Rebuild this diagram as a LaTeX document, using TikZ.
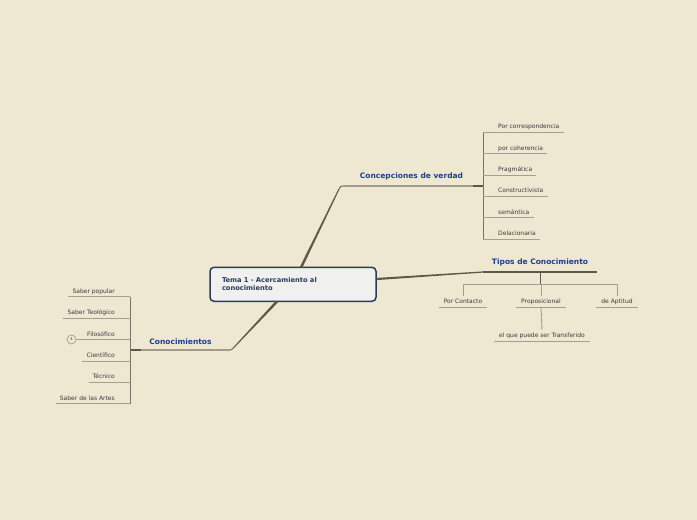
\documentclass[tikz,border=0pt]{standalone}
\usepackage{fontspec}
\setmainfont{DejaVu Sans}
\usetikzlibrary{calc}
\definecolor{bgc}{HTML}{EEE7D2}
\definecolor{boxfill}{HTML}{F0F0EE}
\definecolor{boxline}{HTML}{2B3B5B}
\definecolor{titleblue}{HTML}{1E3F8C}
\definecolor{trunkc}{HTML}{5F5848}
\definecolor{branchc}{HTML}{7A7464}
\definecolor{ulc}{HTML}{A59F90}
\definecolor{leaftext}{HTML}{3A3A3A}
\tikzset{
  central/.style={draw=boxline, line width=1.5pt, fill=boxfill, rounded corners=4pt,
    minimum width=166pt, minimum height=34pt, text width=142pt, align=left,
    font=\fontsize{6.7}{8}\selectfont\bfseries, text=boxline, inner sep=0pt},
  topic/.style={font=\fontsize{7.5}{8}\selectfont\bfseries, text=titleblue, inner sep=0pt},
  leaf/.style={font=\fontsize{6}{7}\selectfont, text=leaftext, text height=4.5pt,
    text depth=1.3pt, inner ysep=1.8pt, inner xsep=4pt},
  cleaf/.style={leaf, inner xsep=5pt},
  uline/.style={draw=ulc, line width=0.9pt},
  branch/.style={draw=branchc, line width=1.1pt},
  darkseg/.style={draw=trunkc, line width=1.6pt},
  bracket/.style={draw=branchc, line width=1pt},
  counter/.style={circle, draw=ulc, line width=0.7pt, minimum size=9pt, inner sep=0pt,
    font=\fontsize{3.8}{4}\selectfont, text=leaftext}
}
\begin{document}
\begin{tikzpicture}[x=1pt,y=-1pt]
\fill[bgc] (0,0) rectangle (697,520);
\useasboundingbox (0,0) rectangle (697,520);

% central topic
\node[central] (c) at (293,284.3) {Tema 1 - Acercamiento al\\conocimiento};

% ---------- Concepciones de verdad ----------
\coordinate (cvA) at (301,267.5);
\coordinate (cvE) at (339,189);
\coordinate (cvC) at (340.6,186);
\coordinate (cvF) at (344,186);
\coordinate (cvD) at (473,186);
\coordinate (cvB) at (483,186);
\fill[trunkc] ($(cvA)!1.3pt!90:(cvE)$) -- ($(cvE)!0.55pt!-90:(cvA)$) -- ($(cvE)!0.55pt!90:(cvA)$) -- ($(cvA)!1.3pt!-90:(cvE)$) -- cycle;
\draw[branch] (cvE) .. controls (cvC) .. (cvF) -- (cvD);
\draw[darkseg] (cvD) -- (cvB);
\node[topic] (cv) at (411.5,176.3) {Concepciones de verdad};
\coordinate (cvT) at (483,132);
\coordinate (cvBot) at (483,239);
\draw[bracket] (cvT) -- (cvBot);

\node[leaf, anchor=south west] (v1) at (494,132) {Por correspondencia};
\node[leaf, anchor=south west] (v2) at (494,153.5) {por coherencia};
\node[leaf, anchor=south west] (v3) at (494,175) {Pragmática};
\node[leaf, anchor=south west] (v4) at (494,196) {Constructivista};
\node[leaf, anchor=south west] (v5) at (494,217.5) {semántica};
\node[leaf, anchor=south west] (v6) at (494,239) {Delacionaria};
\foreach \n in {v1,v2,v3,v4,v5,v6}
  \draw[uline] (cvT |- \n.south) -- (\n.south east);

% ---------- Tipos de Conocimiento ----------
\coordinate (tA) at (376.5,279);
\coordinate (tK) at (483,272);
\coordinate (tE) at (597,272);
\coordinate (tJ) at (540,272);
\coordinate (tBar) at (540,284);
\fill[trunkc] ($(tA)!1.1pt!90:(tK)$) -- ($(tK)!0.6pt!-90:(tA)$) -- ($(tK)!0.6pt!90:(tA)$) -- ($(tA)!1.1pt!-90:(tK)$) -- cycle;
\draw[branch, draw=trunkc, line width=1.1pt] (tK) -- (tE);
\node[topic] (tp) at (540,262.8) {Tipos de Conocimiento};
\draw[branch, draw=trunkc, line width=0.9pt] (tJ) -- (tBar);

\node[cleaf, anchor=south] (n1) at (463,307) {Por Contacto};
\node[cleaf, anchor=south] (n2) at (541,307) {Proposicional};
\node[cleaf, anchor=south] (n3) at (617,307) {de Aptitud};
\node[cleaf, anchor=south] (n4) at (542,341) {el que puede ser Transferido};
\draw[uline] (n1.north |- tBar) -- (n3.north |- tBar);
\foreach \n in {n1,n2,n3}{
  \draw[uline] (\n.north |- tBar) -- ($(\n.north)+(0,-1)$);
  \draw[uline] (\n.south west) -- (\n.south east);
}
\draw[uline] (n2.south) -- ($(n4.north)+(0,-1)$);
\draw[uline] (n4.south west) -- (n4.south east);

% ---------- Conocimientos ----------
\coordinate (kA) at (277,301.5);
\coordinate (kE) at (233.5,347.8);
\coordinate (kC) at (231.5,350);
\coordinate (kF) at (227,350);
\coordinate (kD) at (141,350);
\coordinate (kB) at (130,350);
\fill[trunkc] ($(kA)!1.3pt!90:(kE)$) -- ($(kE)!0.5pt!-90:(kA)$) -- ($(kE)!0.5pt!90:(kA)$) -- ($(kA)!1.3pt!-90:(kE)$) -- cycle;
\draw[branch] (kE) .. controls (kC) .. (kF) -- (kD);
\draw[darkseg] (kD) -- (kB);
\node[topic] (kn) at (180.5,341.2) {Conocimientos};
\coordinate (kT) at (130,296.5);
\coordinate (kBot) at (130,403.5);
\draw[bracket] (kT) -- (kBot);

\node[leaf, anchor=south east] (k1) at (119,296.5) {Saber popular};
\node[leaf, anchor=south east] (k2) at (119,318) {Saber Teológico};
\node[leaf, anchor=south east] (k3) at (119,339.5) {Filosófico};
\node[leaf, anchor=south east] (k4) at (119,361) {Científico};
\node[leaf, anchor=south east] (k5) at (119,382) {Técnico};
\node[leaf, anchor=south east] (k6) at (119,403.5) {Saber de las Artes};
\foreach \n in {k1,k2,k4,k5,k6}
  \draw[uline] (\n.south west) -- (kT |- \n.south);
\node[counter] (cnt) at (71.5,339.5) {4};
\draw[uline] (cnt.east) -- (kT |- k3.south);
\end{tikzpicture}
\end{document}
